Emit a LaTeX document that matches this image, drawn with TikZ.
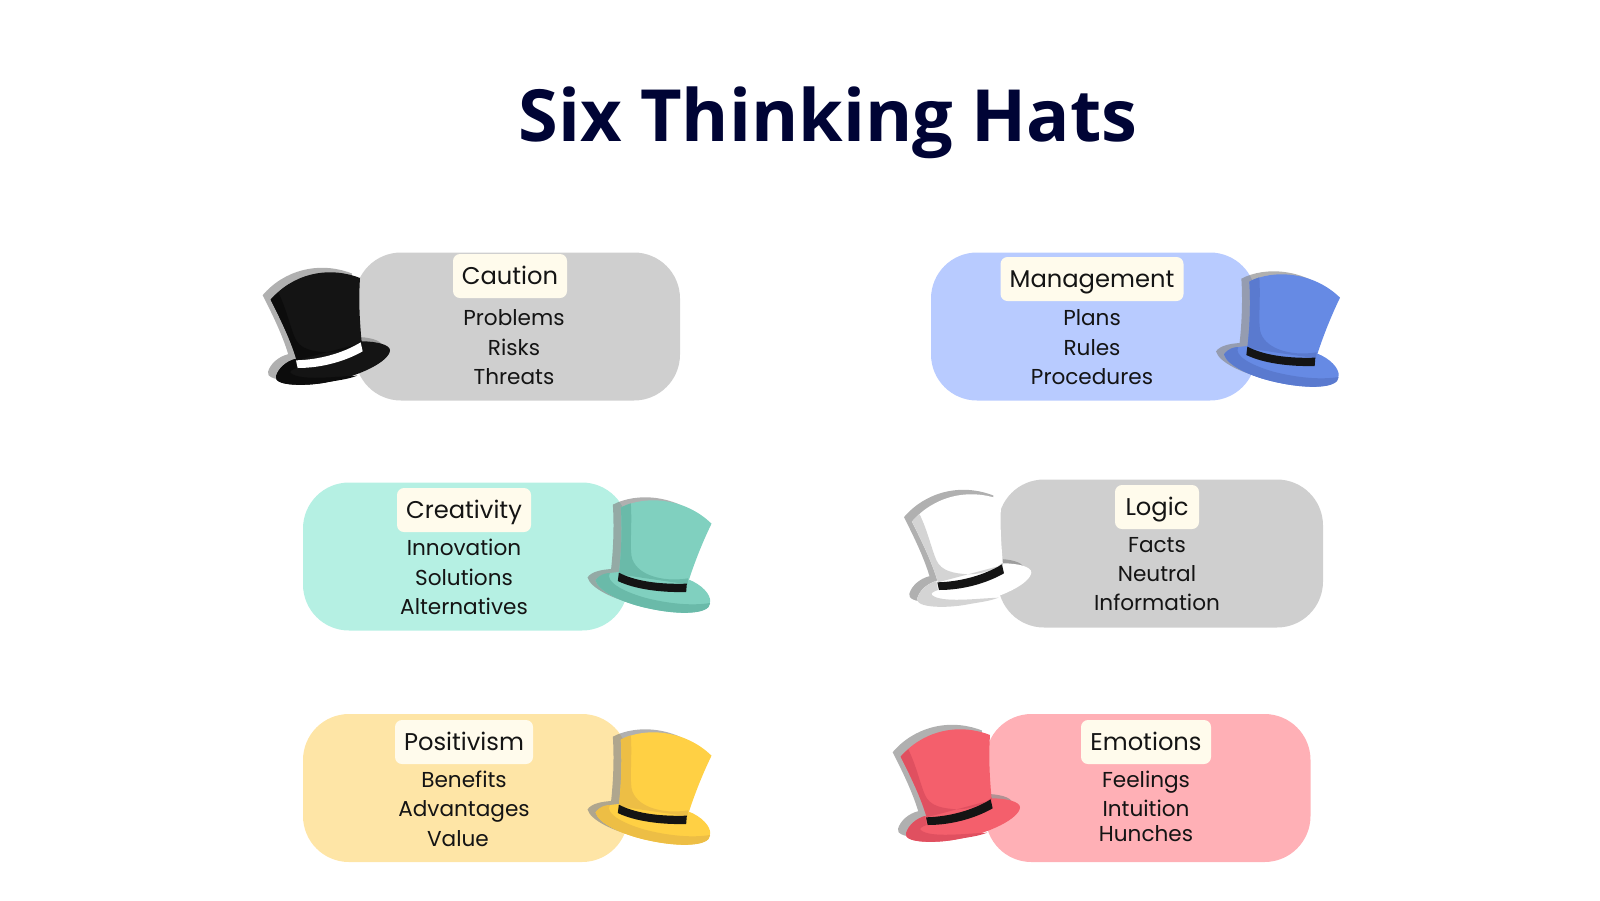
\documentclass[tikz,border=0pt]{standalone}
\usepackage{fontspec}
\setmainfont{Poppins}
\newfontfamily\titlefont{Open Sans}
\definecolor{navy}{HTML}{000435}
\definecolor{cream}{HTML}{FFFBEC}
\definecolor{inkc}{HTML}{141414}
\definecolor{pillgray}{HTML}{CFCFCF}
\definecolor{pillblue}{HTML}{B8CBFF}
\definecolor{pillgreen}{HTML}{B5F0E3}
\definecolor{pillyellow}{HTML}{FEE5A6}
\definecolor{pillred}{HTML}{FFB0B6}
\definecolor{blackdark}{HTML}{0C0C0C}
\definecolor{bluemain}{HTML}{668AE4}
\definecolor{bluedark}{HTML}{5A7ACF}
\definecolor{greenmain}{HTML}{80D0BF}
\definecolor{greendark}{HTML}{6ABAA9}
\definecolor{yellowmain}{HTML}{FFD044}
\definecolor{yellowdark}{HTML}{EDBE45}
\definecolor{redmain}{HTML}{F45F6C}
\definecolor{reddark}{HTML}{E05060}
\definecolor{whitedark}{HTML}{D4D4D4}
\tikzset{ pill/.style = { rectangle
                       , rounded corners = 46pt
                       , minimum width   = 325pt
                       , minimum height  = 148pt
                       },
            head/.style = { rectangle
            , fill = cream
            , rounded corners = 7pt
            , inner sep    = 0pt
            , minimum height = 44pt
            , text = inkc
            , text height = 22pt
            , text depth = 5.4pt
            , font = \fontsize{24.2}{30}\selectfont
            },
            line/.style = { text = inkc
            , inner sep = 0pt
            , text height = 21pt
            , text depth = 5pt
            , font = \fontsize{21.6}{27}\selectfont
            },
            hatshadow/.style = { fill = black!50, fill opacity = 0.62 }
          }
\def\crownpath{(62,140) .. controls (125,66) and (230,36) .. (330,75) .. controls (325,150) and (330,210) .. (335,270) -- (140,322) .. controls (125,270) and (100,215) .. (62,140) -- cycle}
\def\brimpath{(78,370) .. controls (85,345) and (110,325) .. (135,318) -- (335,265) .. controls (380,265) and (420,275) .. (420,292) .. controls (418,325) and (330,370) .. (230,388) .. controls (170,400) and (70,400) .. (78,370) -- cycle}
\def\crownpathr{(118,50) .. controls (190,12) and (310,20) .. (390,98) .. controls (360,160) and (335,225) .. (318,280) -- (112,250) .. controls (120,180) and (122,110) .. (118,50) -- cycle}
\def\brimpathr{(42,268) .. controls (55,250) and (85,245) .. (113,243) -- (320,265) .. controls (360,280) and (388,310) .. (386,332) .. controls (385,372) and (290,372) .. (200,352) .. controls (120,335) and (50,300) .. (42,268) -- cycle}
% x, y, main, dark, band
\newcommand{\tophat}[5]{
    \begin{scope}[shift={(#1-8,#2-4.5)},scale=1/3]
        \fill[hatshadow] \crownpath \brimpath;
    \end{scope}
    \begin{scope}[shift={(#1,#2)},scale=1/3]
        \fill[#3] \brimpath;
        \fill[#4] (78,370) .. controls (85,345) and (110,325) .. (135,318) -- (140,345) .. controls (125,350) and (118,355) .. (122,360) .. controls (150,385) and (260,370) .. (322,368) .. controls (290,380) and (260,382) .. (230,388) .. controls (170,400) and (70,400) .. (78,370) -- cycle;
        \fill[#3] \crownpath;
        \fill[#4] (62,140) .. controls (70,130) and (78,123) .. (85,118) .. controls (110,170) and (120,220) .. (135,255) .. controls (150,290) and (190,295) .. (230,298) .. controls (270,298) and (310,285) .. (335,262) -- (335,270) -- (140,322) .. controls (125,270) and (100,215) .. (62,140) -- cycle;
        \fill[#5] (138,322) .. controls (210,320) and (280,300) .. (332,268) -- (338,295) .. controls (285,325) and (215,345) .. (143,345) -- cycle;
    \end{scope}
}
% same hat, brim to the right
\newcommand{\tophatr}[4]{
    \begin{scope}[shift={(#1-8,#2-3)},scale=1/3]
        \fill[hatshadow] \crownpathr \brimpathr;
    \end{scope}
    \begin{scope}[shift={(#1,#2)},scale=1/3]
        \fill[#3] \brimpathr;
        \fill[#4] (42,268) .. controls (55,250) and (72,246) .. (85,246) .. controls (70,270) and (120,300) .. (190,320) .. controls (260,338) and (330,345) .. (386,336) .. controls (385,372) and (290,372) .. (200,352) .. controls (120,335) and (50,300) .. (42,268) -- cycle;
        \fill[#3] \crownpathr;
        \fill[#4] (118,50) .. controls (128,44) and (138,40) .. (148,37) .. controls (152,100) and (145,160) .. (150,195) .. controls (160,250) and (240,275) .. (320,262) -- (318,280) -- (112,250) .. controls (120,180) and (122,110) .. (118,50) -- cycle;
        \fill[inkc] (112,245) .. controls (170,275) and (250,280) .. (316,278) -- (314,303) .. controls (240,305) and (160,295) .. (109,270) -- cycle;
    \end{scope}
}
\begin{document}
\begin{tikzpicture}[x=1pt,y=-1pt]
    \useasboundingbox (0,0) rectangle (1600,900);
    \node[text=navy, inner sep=0pt, font=\titlefont\bfseries\fontsize{72}{80}\selectfont] (title) at (828,123) {Six Thinking Hats};
    % left column
    \node[pill, fill=pillgray] (caution) at (517.5,326.5) {};
    \tophat{250}{253}{inkc}{blackdark}{white}
    \node[head, minimum width=114pt] (cautionh) at (510,276) {Caution};
    \node[line] (problems) at (514,317) {Problems};
    \node[line] (risks) at (514,347) {Risks};
    \node[line] (threats) at (514,376) {Threats};

    \node[pill, fill=pillgreen] (creativity) at (465.5,556.5) {};
    \tophatr{581.5}{491}{greenmain}{greendark}
    \node[head, minimum width=134pt] (creativityh) at (464,510) {Creativity};
    \node[line] (innovation) at (464,547) {Innovation};
    \node[line] (solutions) at (464,577) {Solutions};
    \node[line] (alternatives) at (464,606) {Alternatives};

    \node[pill, fill=pillyellow] (positivism) at (465.5,788) {};
    \tophatr{581.5}{723}{yellowmain}{yellowdark}
    \node[head, minimum width=138pt] (positivismh) at (464,742) {Positivism};
    \node[line] (benefits) at (464,779) {Benefits};
    \node[line] (advantages) at (464,808) {Advantages};
    \node[line] (value) at (458,838) {Value};
    % right column
    \node[pill, fill=pillblue] (management) at (1093.5,326.5) {};
    \tophatr{1210}{265}{bluemain}{bluedark}
    \node[head, minimum width=183pt] (managementh) at (1092,279) {Management};
    \node[line] (plans) at (1092,317) {Plans};
    \node[line] (rules) at (1092,347) {Rules};
    \node[line] (procedures) at (1092,376) {Procedures};

    \node[pill, fill=pillgray] (logic) at (1160.5,553.5) {};
    \tophat{891.3}{475}{white}{whitedark}{inkc}
    \node[head, minimum width=84pt] (logich) at (1157,507) {Logic};
    \node[line] (facts) at (1157,544) {Facts};
    \node[line] (neutral) at (1157,573) {Neutral};
    \node[line] (information) at (1157,602) {Information};

    \node[pill, fill=pillred] (emotions) at (1148,788) {};
    \tophat{880}{710}{redmain}{reddark}{inkc}
    \node[head, minimum width=130pt] (emotionsh) at (1146,742) {Emotions};
    \node[line] (feelings) at (1146,779) {Feelings};
    \node[line] (intuition) at (1146,808) {Intuition};
    \node[line] (hunches) at (1146,833) {Hunches};
\end{tikzpicture}
\end{document}
